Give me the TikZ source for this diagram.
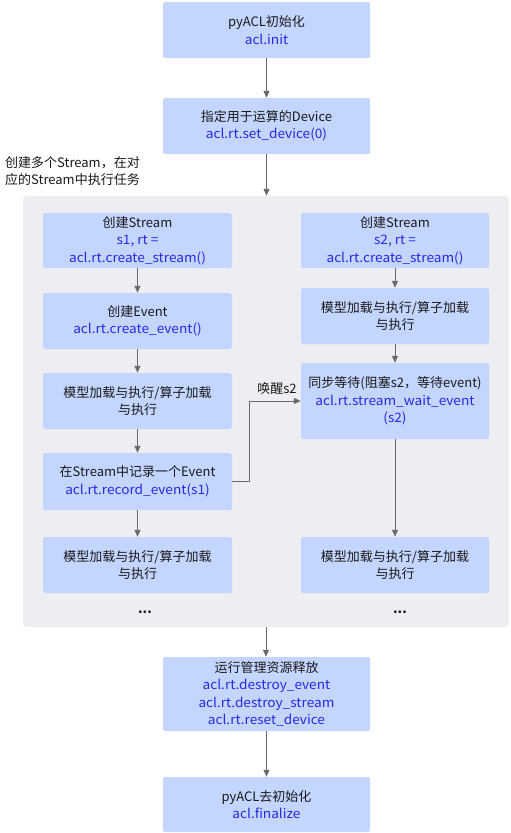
\documentclass[tikz,border=0pt]{standalone}
\usepackage{fontspec}
\setmainfont{Noto Sans CJK SC}
\newfontfamily\codefont{Noto Sans CJK SC}[FakeStretch=1.05]
\usetikzlibrary{arrows.meta}
\definecolor{boxblue}{RGB}{196,214,255}
\definecolor{contgray}{RGB}{237,238,242}
\definecolor{codeblue}{RGB}{40,40,225}
\definecolor{arrowgray}{RGB}{105,105,110}
\definecolor{txt}{RGB}{25,25,25}
\newcommand{\cde}[1]{\textcolor{codeblue}{\codefont #1}}
\tikzset{
  stepbox/.style={fill=boxblue, rounded corners=2pt, align=center, inner sep=1pt,
    font=\fontsize{13}{17.5}\selectfont, text=txt},
  colL/.style={stepbox, minimum width=189pt},
  colR/.style={stepbox, minimum width=188pt},
  topbox/.style={stepbox, minimum width=207pt},
  conn/.style={draw=arrowgray, line width=1pt, -{Triangle[width=6pt,length=7pt]}},
  plain/.style={font=\fontsize{13}{17.5}\selectfont, text=txt, inner sep=0pt}
}
\begin{document}
\begin{tikzpicture}[x=1pt,y=-1pt]
\useasboundingbox (0,0) rectangle (511,833);
\node[topbox, minimum height=56pt] (init) at (266.5,30) {pyACL初始化\\\cde{acl.init}};
\node[topbox, minimum height=56pt] (dev) at (266.5,126) {指定用于运算的Device\\\cde{acl.rt.set\_device(0)}};
\node[plain, align=left, anchor=north west] (lbl) at (5,156) {创建多个Stream，在对\\应的Stream中执行任务};
\node[fill=contgray, rounded corners=3pt, minimum width=486pt, minimum height=431pt, inner sep=0pt] (cont) at (266,411.5) {};
% left column
\node[colL, minimum height=55pt] (l1) at (137.5,240.5) {创建Stream\\\cde{s1, rt =}\\\cde{acl.rt.create\_stream()}};
\node[colL, minimum height=56pt] (l2) at (137.5,321) {创建Event\\\cde{acl.rt.create\_event()}};
\node[colL, minimum height=56pt] (l3) at (137.5,401) {模型加载与执行/算子加载\\与执行};
\node[colL, minimum height=57pt] (l4) at (137.5,481.5) {在Stream中记录一个Event\\\cde{acl.rt.record\_event(s1)}};
\node[colL, minimum height=56pt] (l5) at (137.5,565) {模型加载与执行/算子加载\\与执行};
\node[plain, font=\fontsize{13}{17.5}\selectfont\bfseries] (ld) at (145,612) {...};
% right column
\node[colR, minimum height=55pt] (r1) at (395,240.5) {创建Stream\\\cde{s2, rt =}\\\cde{acl.rt.create\_stream()}};
\node[colR, minimum height=56pt] (r2) at (395,316) {模型加载与执行/算子加载\\与执行};
\node[colR, minimum height=76pt] (r3) at (395,401) {同步等待(阻塞s2，等待event)\\\cde{acl.rt.stream\_wait\_event}\\\cde{(s2)}};
\node[colR, minimum height=56pt] (r5) at (395,565) {模型加载与执行/算子加载\\与执行};
\node[plain, font=\fontsize{13}{17.5}\selectfont\bfseries] (rd) at (400,612) {...};
% bottom
\node[topbox, minimum height=74pt] (rel) at (266.5,694) {运行管理资源释放\\\cde{acl.rt.destroy\_event}\\\cde{acl.rt.destroy\_stream}\\\cde{acl.rt.reset\_device}};
\node[topbox, minimum height=55pt] (fin) at (266.5,804.5) {pyACL去初始化\\\cde{acl.finalize}};
% connectors
\draw[conn] (init) -- (dev);
\draw[conn] (dev.south) -- (dev.south |- cont.north);
\draw[conn] (l1) -- (l2);
\draw[conn] (l2) -- (l3);
\draw[conn] (l3) -- (l4);
\draw[conn] (l4) -- (l5);
\draw[conn] (r1) -- (r2);
\draw[conn] (r2) -- (r3);
\draw[conn] (r3) -- (r5);
\draw[conn] (l4.east) -- ++(17,0) |- (r3.west);
\node[plain] (wake) at (277,389) {唤醒s2};
\draw[conn] (cont.south) -- (rel.north -| cont.south);
\draw[conn] (rel) -- (fin);
\end{tikzpicture}
\end{document}
